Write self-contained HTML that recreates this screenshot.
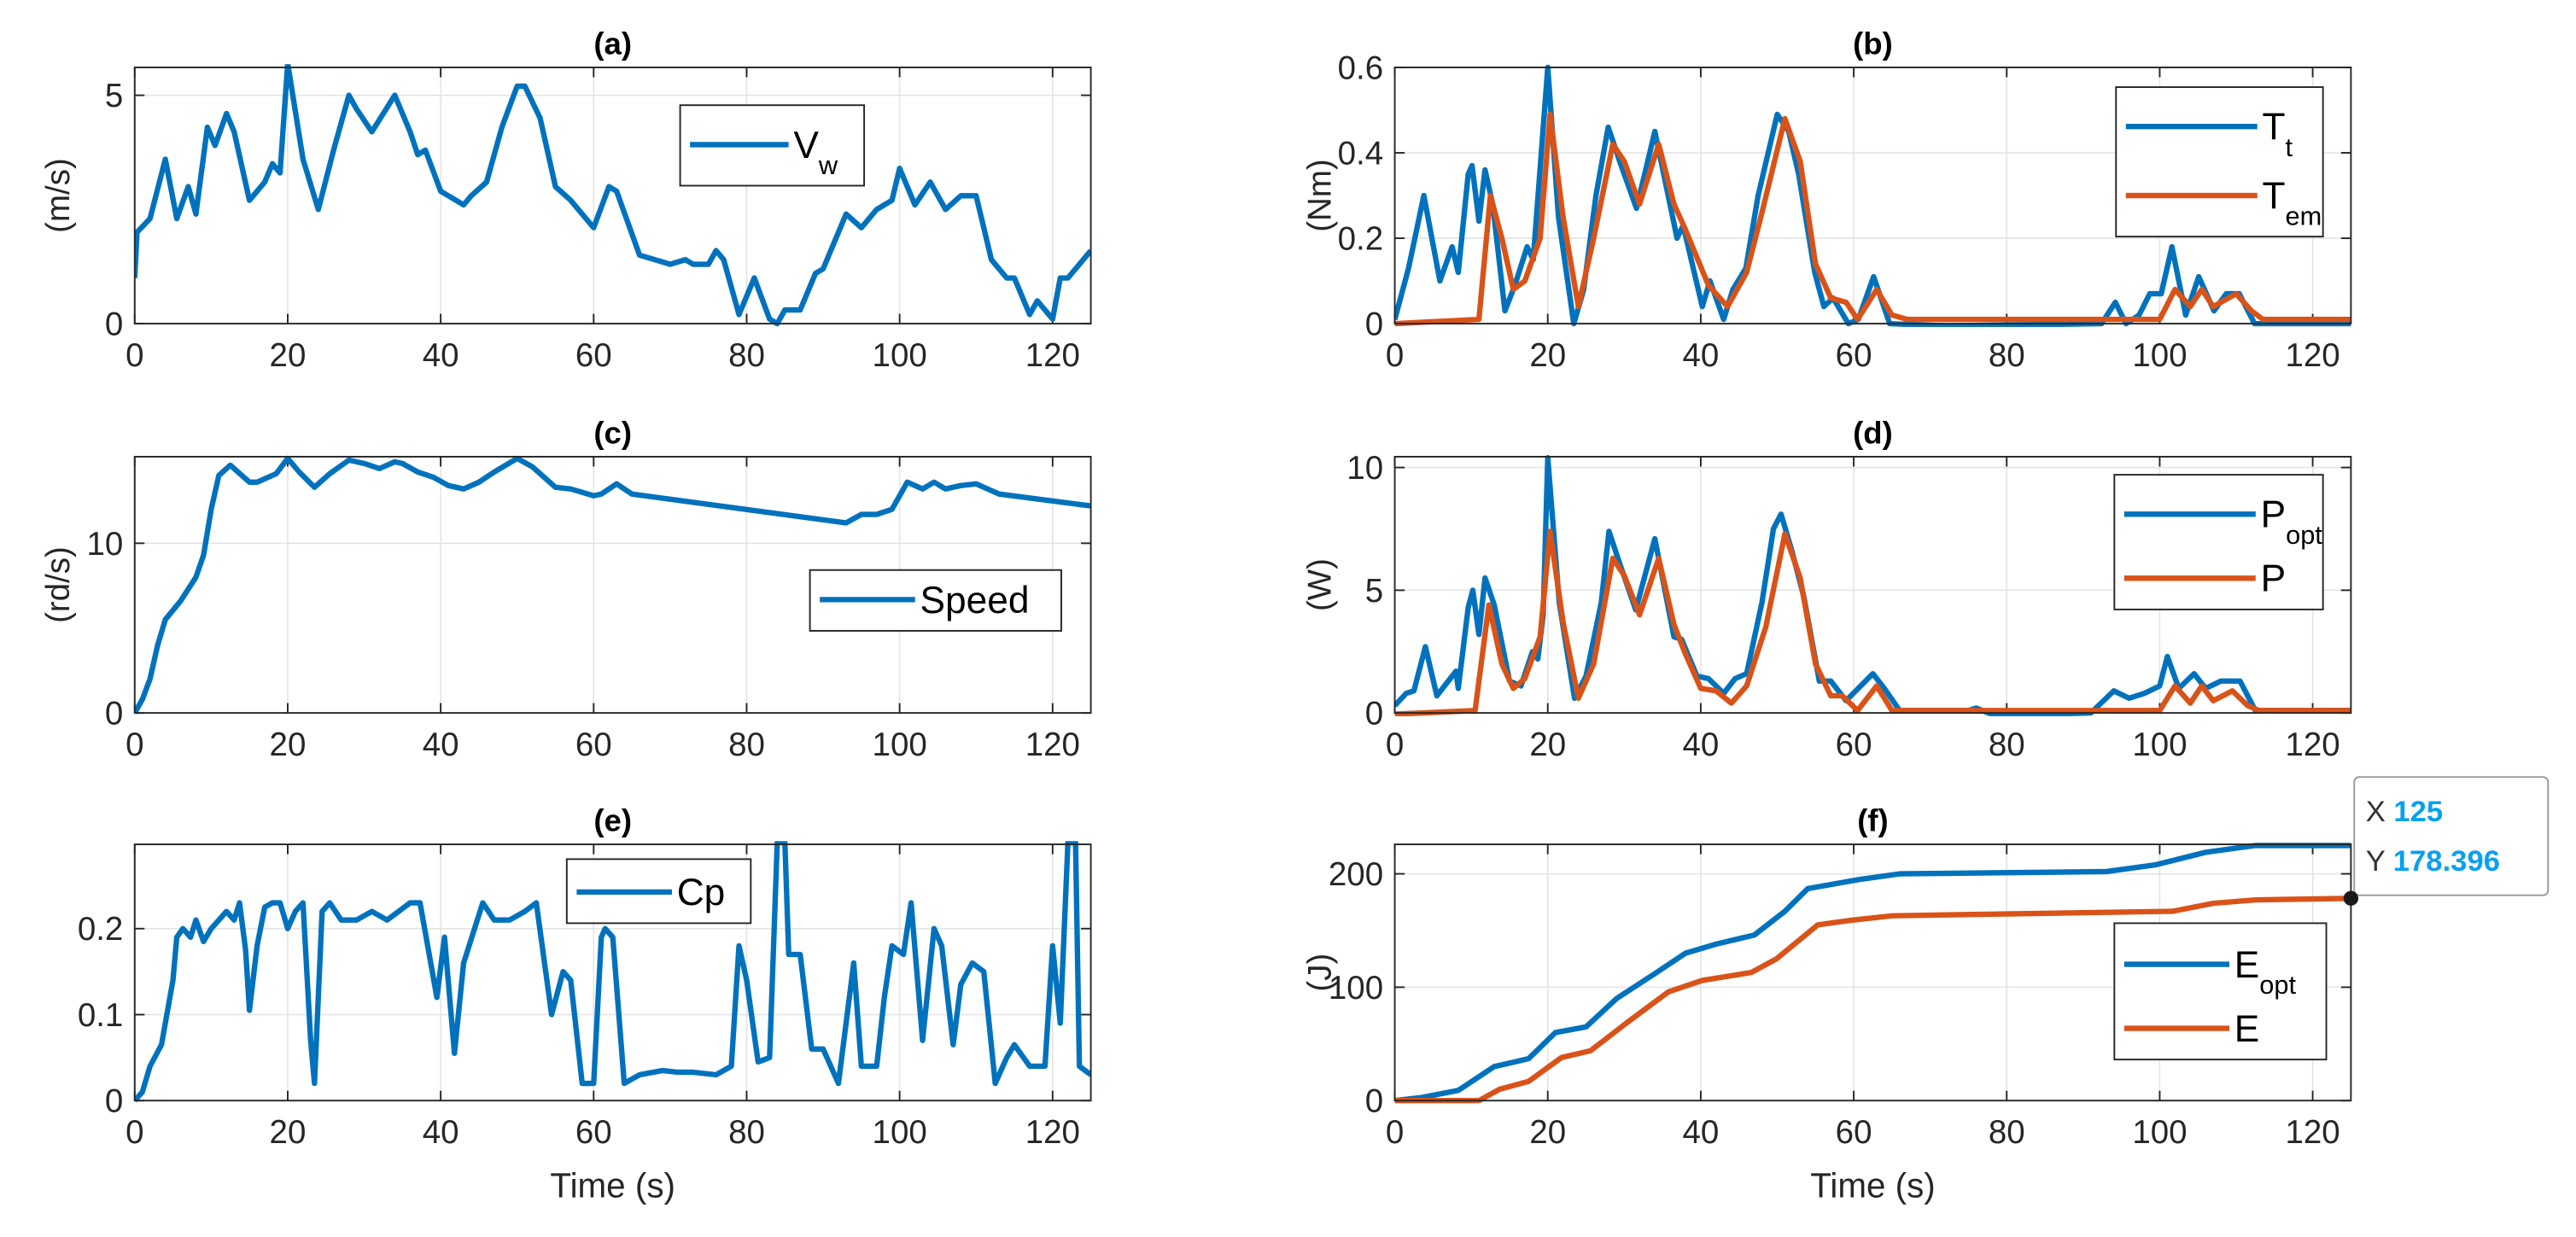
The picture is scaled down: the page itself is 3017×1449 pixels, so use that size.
<!DOCTYPE html>
<html><head><meta charset="utf-8"><style>
html,body{margin:0;padding:0;background:#fff;}
svg{display:block;font-family:"Liberation Sans",sans-serif;}
</style></head><body>
<svg id="fig" width="3017" height="1449" viewBox="0 0 1568 753" xmlns="http://www.w3.org/2000/svg"></svg>
<script>
// ---- data ----
const tA=[0,0.3,2,4,5.5,7,8,9.5,10.5,12,13,15,17,18,19,20,22,24,26,28,29,31,34,36,37,38,40,41,43,44,46,48,50,51,53,55,57,60,62,63,66,68,70,72,73,75,76,77,79,81,83,84,85,87,89,90,93,95,97,99,100,102,104,106,108,110,112,114,115,117,118,120,121,122,125];
const vW=[1.0,2.0,2.3,3.6,2.3,3.0,2.4,4.3,3.9,4.6,4.2,2.7,3.1,3.5,3.3,5.7,3.6,2.5,3.8,5.0,4.7,4.2,5.0,4.2,3.7,3.8,2.9,2.8,2.6,2.8,3.1,4.3,5.2,5.2,4.5,3.0,2.7,2.1,3.0,2.9,1.5,1.4,1.3,1.4,1.3,1.3,1.6,1.4,0.2,1.0,0.1,0.0,0.3,0.3,1.1,1.2,2.4,2.1,2.5,2.7,3.4,2.6,3.1,2.5,2.8,2.8,1.4,1.0,1.0,0.2,0.5,0.1,1.0,1.0,1.6];
const tTt=[0,1.8,3.8,5.9,7.5,8.3,9.6,10.1,11,11.8,12.8,14.4,15.7,17.3,18.1,20,21.4,23.4,24.7,26.3,27.9,29.6,31.6,34,36.9,37.7,40.2,41.2,43,44.2,45.9,47.5,50,51.5,52.8,54.9,56.1,57.3,59.3,60.6,62.6,64.7,72,92.4,94.2,95.6,97.3,98.7,100.2,101.6,103.4,105.1,107.1,108.7,110.4,112.4,125];
const vTt=[0.01,0.13,0.30,0.10,0.18,0.12,0.35,0.37,0.24,0.36,0.28,0.03,0.09,0.18,0.15,0.60,0.25,0.0,0.08,0.30,0.46,0.37,0.27,0.45,0.20,0.23,0.04,0.10,0.01,0.08,0.13,0.30,0.49,0.45,0.35,0.12,0.04,0.06,0.0,0.01,0.11,0.0,-0.005,0.0,0.05,0.0,0.02,0.07,0.07,0.18,0.02,0.11,0.03,0.07,0.07,0.0,0.0];
const tTem=[0,11,12.5,14,15.5,17,19,20.3,22,24,26,28.5,30,32,34.5,36.5,38,41,43.5,46,48,51,53,55,57,59,60.5,63,65,67,100,102,104,105.5,107,110,112,113.5,125];
const vTem=[0.0,0.01,0.30,0.20,0.08,0.10,0.20,0.49,0.25,0.04,0.2,0.42,0.38,0.28,0.42,0.28,0.22,0.09,0.04,0.12,0.26,0.48,0.38,0.14,0.06,0.05,0.01,0.08,0.02,0.01,0.01,0.08,0.04,0.08,0.04,0.07,0.03,0.01,0.01];
const tSp=[0,1,2,3,4,6,8,9,10,11,12.5,14,15,16,17,18.5,20,21.5,23.5,25.5,28,30,32,34,35,37,39,41,43,45,47,50,52,55,57,60,61,63,65,93,95,97,99,101,103,104.5,106,108,110,113,125];
const vSp=[0,0.8,2,4,5.5,6.6,8,9.3,12,14,14.6,14,13.6,13.6,13.8,14.1,15.0,14.2,13.3,14.1,14.9,14.7,14.4,14.8,14.7,14.2,13.9,13.4,13.2,13.6,14.2,15.0,14.5,13.3,13.2,12.8,12.9,13.5,12.9,11.2,11.7,11.7,12.0,13.6,13.2,13.6,13.2,13.4,13.5,12.9,12.2];
const tPo=[0,1.5,2.5,4,5.5,7,8,8.3,9.6,10.2,11,11.8,13,15,16.5,18,18.7,19.4,20,21.5,23.5,25,27,28,29.5,31.5,34,36.5,37.5,39.5,41,43,44.5,46,48,49.5,50.5,52,53.5,55.5,57,59,62.5,64,66,75,76,78,85,91,94,96,98,100,101,102.5,104.5,106,108,110.5,112.5,125];
const vPo=[0.3,0.8,0.9,2.7,0.7,1.3,1.7,1.0,4.3,5.0,3.2,5.5,4.4,1.3,1.1,2.5,2.2,4,10.4,4.5,0.6,1.5,4.5,7.4,6.0,4.2,7.1,3.1,3.0,1.5,1.4,0.8,1.4,1.6,4.5,7.5,8.1,6.5,4.7,1.3,1.3,0.5,1.6,1.0,0.1,0.1,0.2,-0.05,-0.05,0.0,0.9,0.6,0.8,1.1,2.3,1.0,1.6,1.0,1.3,1.3,0.1,0.1];
const tP=[0,10.5,12.3,14,15.5,17,19,20.3,22,24,26,28.5,30,32,34.5,36.5,38,40,42,44,46,48.5,51,53,55,57,58.5,60.5,63,65,100,102,104,105.5,107,109.5,111.5,113,125];
const vP=[-0.05,0.1,4.4,2.0,1.0,1.4,3.1,7.4,3.7,0.6,2.0,6.3,5.6,4.0,6.3,3.6,2.4,1.0,0.9,0.4,1.1,3.5,7.3,5.5,2.0,0.7,0.7,0.1,1.1,0.1,0.1,1.1,0.4,1.1,0.5,0.9,0.3,0.1,0.1];
const tCp=[0,1,2,3.5,5,5.5,6.3,7.3,8,9,10,11,12,13,13.7,14.5,15,16,17,18,19,20,21,22,23,23.5,24.5,25.5,27,29,31,33,36,37.3,39.5,40.5,41.8,43,45.5,47,49,51,52.5,54.5,56,57,58.5,60,61,61.5,62.5,64,66,69,71,73,76,78,79,80,81.5,83,84,85,85.5,87,88.5,90,92,94,95,97,98,99,100.5,101.5,103,104.5,105.5,107,108,109.5,111,112.5,114,115,117,119,120,121,122,123,123.5,125];
const vCp=[0,0.01,0.04,0.065,0.14,0.19,0.2,0.19,0.21,0.185,0.2,0.21,0.22,0.21,0.23,0.175,0.105,0.18,0.225,0.23,0.23,0.2,0.22,0.23,0.07,0.02,0.22,0.23,0.21,0.21,0.22,0.21,0.23,0.23,0.12,0.19,0.055,0.16,0.23,0.21,0.21,0.22,0.23,0.10,0.15,0.14,0.02,0.02,0.19,0.2,0.19,0.02,0.03,0.035,0.033,0.033,0.03,0.04,0.18,0.14,0.045,0.05,0.3,0.3,0.17,0.17,0.06,0.06,0.02,0.16,0.04,0.04,0.12,0.18,0.17,0.23,0.07,0.2,0.18,0.065,0.135,0.16,0.15,0.02,0.05,0.065,0.04,0.04,0.18,0.09,0.3,0.3,0.04,0.03];
const tEo=[0,3.5,8.3,13,17.5,21,25,29,34,38,42,47,51,54,60.7,66,93,99.5,106,112.5,125];
const vEo=[0,2.7,9,30,37,60,65,90,112,130,138,146,167,187,195,200,202,208,219,225,225];
const tE=[0,11,13.7,17.5,21.8,25.6,30.4,35.8,40.2,46.6,49.9,55.3,59.6,65,101.7,107,112.5,125];
const vE=[0,0,10,17,38,44,69,96,106,113,125,155,159,163,167,174,177,178.4];
const xTicks=[0,20,40,60,80,100,120];
const ticksA=[0,5], ticksB=[0,0.2,0.4,0.6], ticksC=[0,10], ticksD=[0,5,10], ticksE=[0,0.1,0.2], ticksF=[0,100,200];

const NS="http://www.w3.org/2000/svg";
const svg=document.getElementById('fig');
const BLUE="#0072BD", RED="#D95319";
function mk(tag,attrs,parent){const e=document.createElementNS(NS,tag);for(const k in attrs)e.setAttribute(k,attrs[k]);(parent||svg).appendChild(e);return e;}

function axes(o){
  const g=mk('g',{});
  
  
  const X=t=>o.x0+(t/125)*(o.x1-o.x0);
  const Y=v=>o.y1-(v-0)/(o.ymax)*(o.y1-o.y0);
  mk('rect',{x:o.x0,y:o.y0,width:o.x1-o.x0,height:o.y1-o.y0,fill:'#fff'},g);
  xTicks.forEach(t=>{
    const l=mk('line',{x1:X(t),x2:X(t),y1:o.y0,y2:o.y1,stroke:'#e3e3e3','stroke-width':0.8},g);
    
    
    mk('line',{x1:X(t),x2:X(t),y1:o.y1,y2:o.y1-6,stroke:'#262626','stroke-width':1},g);
    mk('line',{x1:X(t),x2:X(t),y1:o.y0,y2:o.y0+6,stroke:'#262626','stroke-width':1},g);
    const tx=mk('text',{x:X(t),y:o.y1+26,'font-size':20,'text-anchor':'middle',fill:'#262626'},g);
    tx.textContent=t;
    
    
  });
  o.yt.forEach(v=>{
    const l=mk('line',{x1:o.x0,x2:o.x1,y1:Y(v),y2:Y(v),stroke:'#e3e3e3','stroke-width':0.8},g);
    
    
    mk('line',{x1:o.x0,x2:o.x0+6,y1:Y(v),y2:Y(v),stroke:'#262626','stroke-width':1},g);
    mk('line',{x1:o.x1,x2:o.x1-6,y1:Y(v),y2:Y(v),stroke:'#262626','stroke-width':1},g);
    const tx=mk('text',{x:o.x0-7,y:Y(v)+7,'font-size':20,'text-anchor':'end',fill:'#262626'},g);
    tx.textContent=v;
    
    
  });
  const cp=mk('clipPath',{id:'cp'+o.name},g);
  mk('rect',{x:o.x0,y:o.y0-2,width:o.x1-o.x0,height:o.y1-o.y0+4},cp);
  o.series.forEach(s=>{
    const d=s.t.map((t,i)=>(i?'L':'M')+X(t).toFixed(2)+' '+Y(s.v[i]).toFixed(2)).join(' ');
    const p=mk('path',{d:d,fill:'none',stroke:s.c,'stroke-width':3.3,'stroke-linejoin':'round','clip-path':'url(#cp'+o.name+')'},g);
    
    
  });
  const box=mk('rect',{x:o.x0,y:o.y0,width:o.x1-o.x0,height:o.y1-o.y0,fill:'none',stroke:'#262626','stroke-width':1},g);
  
  
  const ti=mk('text',{x:(o.x0+o.x1)/2,y:o.y0-8,'font-size':19,'font-weight':'bold','text-anchor':'middle',fill:'#000'},g);
  ti.textContent=o.title;
  
  
  const yl=mk('text',{transform:`translate(${o.ylx},${(o.y0+o.y1)/2}) rotate(-90)`,'font-size':20,'text-anchor':'middle',fill:'#262626'},g);
  yl.textContent=o.ylab;
  
  
  // legend
  const L=o.leg;
  const lg=mk('g',{},g);
  
  
  mk('rect',{x:L.x,y:L.y,width:L.w,height:L.h,fill:'#fff',stroke:'#262626','stroke-width':1},lg);
  L.items.forEach(it=>{
    const e=mk('g',{},lg);
    
    
    mk('line',{x1:L.x+6,x2:L.x+6+L.ll,y1:it.y,y2:it.y,stroke:it.c,'stroke-width':3.3},e);
    const tx=mk('text',{x:L.x+9+L.ll,y:it.y+8,'font-size':23,fill:'#000'},e);
    tx.textContent=it.m;
    if(it.sub){const ts=mk('tspan',{'font-size':16,dy:10},tx);ts.textContent=it.sub;}
  });
  return {X,Y,g};
}

const LX0=82,LX1=664,RX0=849,RX1=1431;
const R=[[41,197],[278,434],[514,670]];
axes({name:'a',x0:LX0,x1:LX1,y0:R[0][0],y1:R[0][1],ymax:5.61,yt:ticksA,title:'(a)',ylab:'(m/s)',ylx:42,
  series:[{t:tA,v:vW,c:BLUE,n:'wind-speed'}],
  leg:{x:414,y:64,w:112,h:49,ll:60,items:[{y:88,c:BLUE,m:'V',sub:'w'}]}});
axes({name:'b',x0:RX0,x1:RX1,y0:R[0][0],y1:R[0][1],ymax:0.6,yt:ticksB,title:'(b)',ylab:'(Nm)',ylx:810,
  series:[{t:tTt,v:vTt,c:BLUE,n:'turbine-torque'},{t:tTem,v:vTem,c:RED,n:'em-torque'}],
  leg:{x:1288,y:53,w:126,h:91,ll:80,items:[{y:77,c:BLUE,m:'T',sub:'t'},{y:119,c:RED,m:'T',sub:'em'}]}});
axes({name:'c',x0:LX0,x1:LX1,y0:R[1][0],y1:R[1][1],ymax:15.1,yt:ticksC,title:'(c)',ylab:'(rd/s)',ylx:42,
  series:[{t:tSp,v:vSp,c:BLUE,n:'speed'}],
  leg:{x:493,y:347,w:153,h:37,ll:58,items:[{y:365,c:BLUE,m:'Speed'}]}});
axes({name:'d',x0:RX0,x1:RX1,y0:R[1][0],y1:R[1][1],ymax:10.44,yt:ticksD,title:'(d)',ylab:'(W)',ylx:810,
  series:[{t:tPo,v:vPo,c:BLUE,n:'optimal-power'},{t:tP,v:vP,c:RED,n:'power'}],
  leg:{x:1287,y:289,w:127,h:82,ll:80,items:[{y:313,c:BLUE,m:'P',sub:'opt'},{y:352,c:RED,m:'P'}]}});
axes({name:'e',x0:LX0,x1:LX1,y0:R[2][0],y1:R[2][1],ymax:0.298,yt:ticksE,title:'(e)',ylab:'',ylx:42,
  series:[{t:tCp,v:vCp,c:BLUE,n:'power-coefficient'}],
  leg:{x:345,y:523,w:112,h:39,ll:58,items:[{y:543,c:BLUE,m:'Cp'}]}});
const f=axes({name:'f',x0:RX0,x1:RX1,y0:R[2][0],y1:R[2][1],ymax:226,yt:ticksF,title:'(f)',ylab:'(J)',ylx:810,
  series:[{t:tEo,v:vEo,c:BLUE,n:'optimal-energy'},{t:tE,v:vE,c:RED,n:'energy'}],
  leg:{x:1287,y:562,w:129,h:83,ll:64,items:[{y:587,c:BLUE,m:'E',sub:'opt'},{y:626,c:RED,m:'E'}]}});

// x-axis titles
[[(LX0+LX1)/2],[(RX0+RX1)/2]].forEach(a=>{
  const t=mk('text',{x:a[0],y:729,'font-size':21,'text-anchor':'middle',fill:'#262626'});
  t.textContent='Time (s)';
  
  
});

// datatip
const dt=mk('g',{});


mk('rect',{x:1433,y:473,width:118,height:72,rx:3,fill:'#fff',stroke:'#999','stroke-width':1},dt);
const dx=mk('text',{x:1440,y:500,'font-size':18,fill:'#333'},dt);
dx.textContent='X ';
const dxv=mk('tspan',{fill:'#0aa0f0','font-weight':'bold'},dx);dxv.textContent='125';
const dy=mk('text',{x:1440,y:530,'font-size':18,fill:'#333'},dt);
dy.textContent='Y ';
const dyv=mk('tspan',{fill:'#0aa0f0','font-weight':'bold'},dy);dyv.textContent='178.396';
const dot=mk('circle',{cx:f.X(125),cy:f.Y(178.396),r:4.5,fill:'#1a1a1a'},dt);


</script>
</body></html>
